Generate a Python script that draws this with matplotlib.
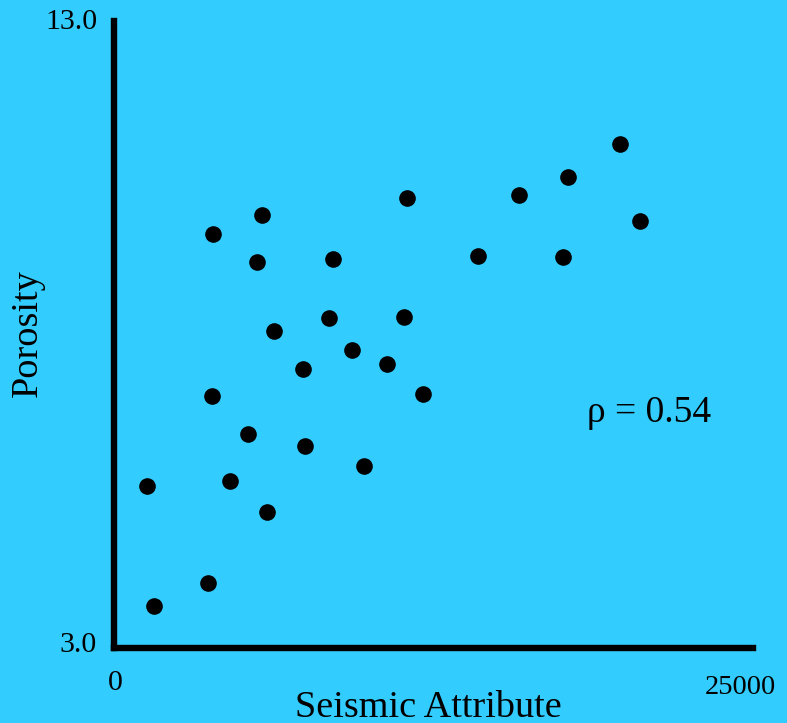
import matplotlib
matplotlib.use("Agg")
import matplotlib.pyplot as plt

# porosity vs seismic attribute
seismic = [1290, 1570, 3680, 3830, 3870, 4540, 5240, 5590, 5790, 5990,
           6260, 7390, 7470, 8410, 8570, 9310, 9780, 10680, 11350, 11460,
           12090, 14240, 15840, 17570, 17760, 19800, 20580]
porosity = [5.58, 3.67, 4.04, 7.02, 9.60, 5.66, 6.41, 9.16, 9.91, 5.17,
            8.06, 7.45, 6.22, 8.26, 9.20, 7.75, 5.90, 7.53, 8.28, 10.18,
            7.05, 9.25, 10.23, 9.24, 10.51, 11.04, 9.81]

x_min, x_max = 0, 25000
y_min, y_max = 3.0, 13.0
rho_label = "\u03c1 = 0.54"

bg = "#33CCFF"
W, H = 787, 723

plt.rcParams["font.family"] = ["Liberation Serif", "DejaVu Serif"]

fig = plt.figure(figsize=(W / 100, H / 100), dpi=100, facecolor=bg)
ax = fig.add_axes([114 / W, 1 - 648 / H, (753 - 114) / W, (648 - 21) / H])
ax.set_facecolor(bg)

ax.scatter(seismic, porosity, s=120, color="black", zorder=5, clip_on=False)

ax.set_xlim(x_min, x_max)
ax.set_ylim(y_min, y_max)
for side in ["top", "right"]:
    ax.spines[side].set_visible(False)
for side in ["left", "bottom"]:
    ax.spines[side].set_linewidth(4.6)
    ax.spines[side].set_capstyle("projecting")
ax.set_xticks([])
ax.set_yticks([])


def px(x, y):
    return x / W, 1 - y / H


fig.text(*px(97, 22), f"{y_max:.1f}", ha="right", va="center", fontsize=21.5)
fig.text(*px(97, 645), f"{y_min:.1f}", ha="right", va="center", fontsize=21.5)
fig.text(*px(115, 683), f"{x_min}", ha="center", va="center", fontsize=21.5)
fig.text(*px(740, 688), f"{x_max}", ha="center", va="center", fontsize=20.5)
fig.text(*px(428, 708), "Seismic Attribute", ha="center", va="center", fontsize=27.5)
fig.text(*px(28, 333), "Porosity", ha="center", va="center", fontsize=27.5, rotation=90)
fig.text(*px(587, 413), rho_label, ha="left", va="center", fontsize=27)

fig.savefig("out.png", dpi=100, facecolor=bg)
